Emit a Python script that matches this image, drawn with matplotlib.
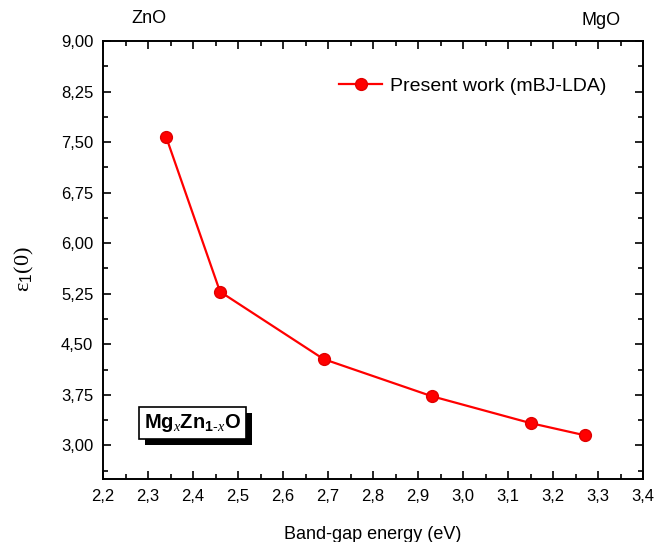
import matplotlib
matplotlib.use("Agg")
import matplotlib.pyplot as plt
from matplotlib.patches import Rectangle
from matplotlib.ticker import MultipleLocator, FuncFormatter

plt.rcParams['font.family'] = ['Liberation Sans', 'DejaVu Sans']
plt.rcParams['mathtext.fontset'] = 'custom'
plt.rcParams['mathtext.rm'] = 'Liberation Sans'
plt.rcParams['mathtext.it'] = 'Liberation Serif:italic'
plt.rcParams['mathtext.bf'] = 'Liberation Sans:bold'

# data
band_gap = [2.34, 2.46, 2.69, 2.93, 3.15, 3.27]
eps1 = [7.58, 5.28, 4.28, 3.73, 3.33, 3.15]
series_label = "Present work (mBJ-LDA)"

fig = plt.figure(figsize=(6.55, 5.42), dpi=100)
ax = fig.add_axes([0.1573, 0.1162, 0.8244, 0.8082])

ax.plot(band_gap, eps1, color='red', lw=1.6, marker='o', ms=8.5,
        markerfacecolor='red', markeredgecolor='#e00000', label=series_label)

ax.set_xlim(2.2, 3.4)
ax.set_ylim(2.5, 9.0)
ax.xaxis.set_major_locator(MultipleLocator(0.1))
ax.xaxis.set_minor_locator(MultipleLocator(0.05))
ax.yaxis.set_major_locator(MultipleLocator(0.75))
ax.yaxis.set_minor_locator(MultipleLocator(0.375))
ax.xaxis.set_major_formatter(FuncFormatter(lambda v, p: f"{v:.1f}".replace('.', ',')))
ax.yaxis.set_major_formatter(FuncFormatter(lambda v, p: f"{v:.2f}".replace('.', ',')))

ax.tick_params(which='both', direction='in', top=True, right=True, width=1.2, labelsize=12)
ax.tick_params(which='major', length=6, pad=7)
ax.tick_params(which='minor', length=3.5)
for s in ax.spines.values():
    s.set_linewidth(1.4)

ax.set_xlabel("Band-gap energy (eV)", fontsize=13, labelpad=16)
ax.set_ylabel("ε$_1$(0)", fontsize=16, family=['Liberation Serif', 'DejaVu Serif'])
ax.yaxis.set_label_coords(-0.124, 0.48)

ax.text(0.085, 1.052, "ZnO", transform=ax.transAxes, fontsize=13, va='center', ha='center')
ax.text(0.922, 1.047, "MgO", transform=ax.transAxes, fontsize=13, va='center', ha='center')

ax.legend(loc='upper right', bbox_to_anchor=(0.964, 0.957), frameon=False,
          fontsize=14, handlelength=2.2, handletextpad=0.4)

# composition label with a drop shadow
label = r"Mg$_{\mathit{x}}$Zn$_{\mathbf{1\text{-}}\mathit{x}}$O"
box = ax.text(0.165, 0.128, label, transform=ax.transAxes, fontsize=14.5, fontweight='bold',
              ha='center', va='center', color='black', zorder=5,
              bbox=dict(boxstyle='square,pad=0.25', facecolor='white', edgecolor='black', lw=1.2))
fig.canvas.draw()
bb = box.get_bbox_patch().get_window_extent()
ax.add_patch(Rectangle((bb.x0 + 6, bb.y0 - 6), bb.width, bb.height, transform=None,
                       facecolor='black', edgecolor='none', zorder=4))

fig.savefig("out.png", dpi=100)
